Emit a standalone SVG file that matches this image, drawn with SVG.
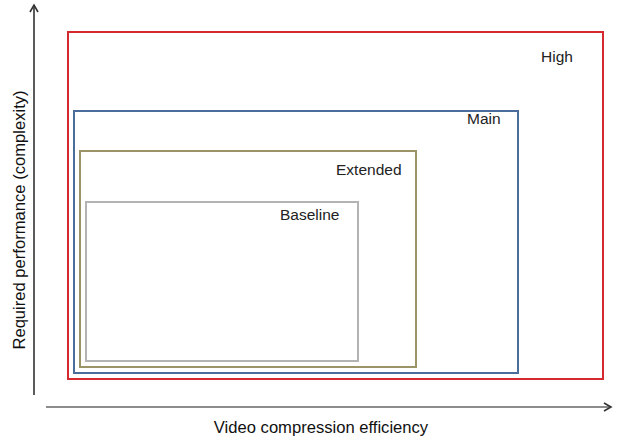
<svg xmlns="http://www.w3.org/2000/svg" width="618" height="440" viewBox="0 0 618 440">
<style>
.box{fill:none;stroke-width:2}
.lbl{font-family:"Liberation Sans",Arial,sans-serif;font-size:15.5px;fill:#222}
.ax{font-family:"Liberation Sans",Arial,sans-serif;font-size:16.6px;fill:#111}
.axis{stroke:#333;stroke-width:1.6;fill:none}
</style>
<defs>
<marker id="arr" markerWidth="10" markerHeight="10" refX="8" refY="5" orient="auto" markerUnits="userSpaceOnUse">
<path d="M1,1 L8,5 L1,9" fill="none" stroke="#333" stroke-width="1.6"/>
</marker>
</defs>
<rect width="618" height="440" fill="#fff"/>
<g id="connectors">
<line class="axis" x1="34" y1="395" x2="34" y2="5" marker-end="url(#arr)"/>
<line class="axis" x1="46" y1="407" x2="611" y2="407" marker-end="url(#arr)" style="stroke:#666"/>
</g>
<g id="high"><rect class="box" x="68" y="32" width="535" height="347" stroke="#d42a2f"/><text class="lbl" x="541" y="62">High</text></g>
<g id="main"><rect class="box" x="74" y="111" width="444" height="262" stroke="#4a6d9c"/><text class="lbl" x="467" y="124">Main</text></g>
<g id="extended"><rect class="box" x="80" y="151" width="336" height="216" stroke="#9b9467"/><text class="lbl" x="336" y="175">Extended</text></g>
<g id="baseline"><rect class="box" x="86" y="202" width="272" height="159" stroke="#b3b3b3"/><text class="lbl" x="280" y="220">Baseline</text></g>
<text class="ax" x="321" y="433" text-anchor="middle">Video compression efficiency</text>
<text class="ax" transform="translate(25,220) rotate(-90)" text-anchor="middle">Required performance (complexity)</text>
</svg>
